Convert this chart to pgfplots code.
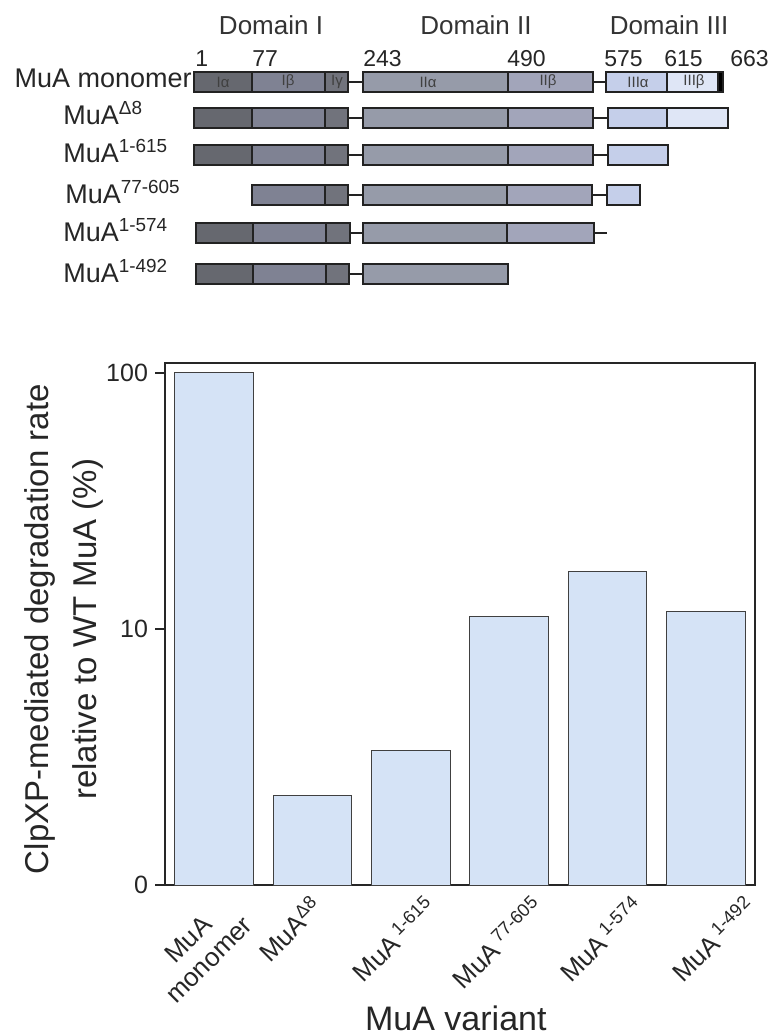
\documentclass[border=0pt]{standalone}
\usepackage{fontspec}
\setmainfont{Liberation Sans}
\usepackage{pgfplots}
\pgfplotsset{compat=1.18}
\definecolor{cIa}{HTML}{66686F}
\definecolor{cIb}{HTML}{7F8293}
\definecolor{cIg}{HTML}{71737C}
\definecolor{cIIa}{HTML}{969BA9}
\definecolor{cIIb}{HTML}{A2A5BA}
\definecolor{cIIIa}{HTML}{C5CFEA}
\definecolor{cIIIb}{HTML}{DFE6F6}
\definecolor{edge}{HTML}{222222}
\definecolor{barc}{HTML}{D5E3F6}
\newcommand{\dbox}[5]{\addplot[fill=#5, draw=edge, line width=0.9pt] coordinates {(#1,#3) (#2,#3) (#2,#4) (#1,#4)} --cycle;}
\newcommand{\dlink}[3]{\addplot[draw=edge, line width=0.9pt] coordinates {(#1,#3) (#2,#3)};}
\begin{document}
\begin{tikzpicture}
\path[use as bounding box] (0pt,0pt) rectangle (386pt,-518pt);
% ---------- domain diagram ----------
\begin{axis}[at={(0pt,0pt)}, anchor=north west, scale only axis,
  width=386pt, height=160pt, xmin=0, xmax=772, ymin=0, ymax=320,
  y dir=reverse, hide axis, clip=false]
% row 1: MuA monomer
\dbox{194}{252}{72}{92}{cIa}
\dbox{252}{325}{72}{92}{cIb}
\dbox{325}{348}{72}{92}{cIg}
\dlink{348}{363}{82}
\dbox{363}{508}{72}{92}{cIIa}
\dbox{508}{593}{72}{92}{cIIb}
\dlink{593}{606}{82}
\dbox{606}{667}{72}{92}{cIIIa}
\dbox{667}{718}{72}{92}{cIIIb}
\dbox{718}{723}{72}{92}{black}
% row 2: Delta8
\dbox{194}{252}{108}{128}{cIa}
\dbox{252}{325}{108}{128}{cIb}
\dbox{325}{348}{108}{128}{cIg}
\dlink{348}{363}{118}
\dbox{363}{508}{108}{128}{cIIa}
\dbox{508}{593}{108}{128}{cIIb}
\dlink{593}{608}{118}
\dbox{608}{667}{108}{128}{cIIIa}
\dbox{667}{728}{108}{128}{cIIIb}
% row 3: 1-615
\dbox{194}{252}{145}{165}{cIa}
\dbox{252}{325}{145}{165}{cIb}
\dbox{325}{348}{145}{165}{cIg}
\dlink{348}{363}{155}
\dbox{363}{508}{145}{165}{cIIa}
\dbox{508}{593}{145}{165}{cIIb}
\dlink{593}{608}{155}
\dbox{608}{668}{145}{165}{cIIIa}
% row 4: 77-605
\dbox{252}{325}{185}{205}{cIb}
\dbox{325}{348}{185}{205}{cIg}
\dlink{348}{363}{195}
\dbox{363}{507}{185}{205}{cIIa}
\dbox{507}{592}{185}{205}{cIIb}
\dlink{592}{607}{195}
\dbox{607}{640}{185}{205}{cIIIa}
% row 5: 1-574
\dbox{196}{253}{223}{243}{cIa}
\dbox{253}{326}{223}{243}{cIb}
\dbox{326}{350}{223}{243}{cIg}
\dlink{350}{363}{233}
\dbox{363}{507}{223}{243}{cIIa}
\dbox{507}{594}{223}{243}{cIIb}
\dlink{594}{607}{233}
% row 6: 1-492
\dbox{196}{253}{264}{284}{cIa}
\dbox{253}{326}{264}{284}{cIb}
\dbox{326}{349}{264}{284}{cIg}
\dlink{349}{363}{274}
\dbox{363}{508}{264}{284}{cIIa}
% sub-domain labels
\begin{scope}[every node/.style={font=\fontsize{7.5}{7.5}\selectfont, text=black!75, anchor=center}]
\node at (axis cs:223,82) {Iα};
\node at (axis cs:288,82) {Iβ};
\node at (axis cs:337,82) {Iγ};
\node at (axis cs:428,82) {IIα};
\node at (axis cs:548,82) {IIβ};
\node at (axis cs:638,82) {IIIα};
\node at (axis cs:694,82) {IIIβ};
\end{scope}
% domain headings
\begin{scope}[every node/.style={font=\fontsize{13}{13}\selectfont, text=black!80, anchor=base}]
\node at (axis cs:271,35) {Domain I};
\node at (axis cs:476,35) {Domain II};
\node at (axis cs:669,35) {Domain III};
\end{scope}
% residue numbers
\begin{scope}[every node/.style={font=\fontsize{11.5}{11.5}\selectfont, text=black!85, anchor=base west, inner sep=0pt}]
\node at (axis cs:195,67) {1};
\node at (axis cs:252,67) {77};
\node at (axis cs:363,67) {243};
\node at (axis cs:507,67) {490};
\node at (axis cs:604,67) {575};
\node at (axis cs:664,67) {615};
\node at (axis cs:730,67) {663};
\end{scope}
% row names
\begin{scope}[every node/.style={font=\fontsize{13.5}{13.5}\selectfont, text=black!85, inner sep=0pt}]
\node[anchor=base east] at (axis cs:192,88) {MuA monomer};
\node[anchor=base west] at (axis cs:63,125) {MuA\textsuperscript{Δ8}};
\node[anchor=base west] at (axis cs:63,163) {MuA\textsuperscript{1-615}};
\node[anchor=base west] at (axis cs:65,204) {MuA\textsuperscript{77-605}};
\node[anchor=base west] at (axis cs:63,242) {MuA\textsuperscript{1-574}};
\node[anchor=base west] at (axis cs:63,283) {MuA\textsuperscript{1-492}};
\end{scope}
\end{axis}
% ---------- bar chart ----------
\begin{axis}[at={(82.5pt,-442.5pt)}, anchor=south west, scale only axis,
  width=295pt, height=261pt,
  ymode=log, ymin=1, ymax=109.4, xmin=-0.5, xmax=5.5,
  ybar, bar width=0.8,
  ytick={1,10,100}, yticklabels={0,10,100},
  ytick pos=left, tick align=outside, major tick length=5pt,
  ytick style={line width=1pt, black!85},
  yminorticks=false,
  xtick={0.11,1.01,2.17,3.26,4.28,5.42},
  xticklabels={{MuA\\monomer}, MuA\textsuperscript{Δ8}, MuA\,\textsuperscript{1-615}, MuA\,\textsuperscript{77-605}, MuA\,\textsuperscript{1-574}, MuA\,\textsuperscript{1-492}},
  x tick style={draw=none},
  xticklabel style={rotate=45, anchor=north east, align=center, font=\fontsize{13}{14.5}\selectfont, text=black!85, inner sep=1pt, yshift=3pt},
  yticklabel style={font=\fontsize{12.5}{12.5}\selectfont, text=black!85},
  axis line style={line width=1pt, black!85},
  xlabel={MuA variant},
  xlabel style={font=\fontsize{17}{17}\selectfont, text=black!85, at={(axis description cs:0.493,-0.278)}, anchor=base},
  ylabel={ClpXP-mediated degradation rate\\relative to WT MuA (\%)},
  ylabel style={font=\fontsize{16.5}{24}\selectfont, text=black!85, align=center, at={(axis description cs:-0.171,0.49)}, anchor=center},
]
\addplot[fill=barc, draw=black!75, line width=0.5pt] coordinates {(0,100) (1,2.23) (2,3.36) (3,11.2) (4,16.7) (5,11.7)};
\end{axis}
\end{tikzpicture}
\end{document}
